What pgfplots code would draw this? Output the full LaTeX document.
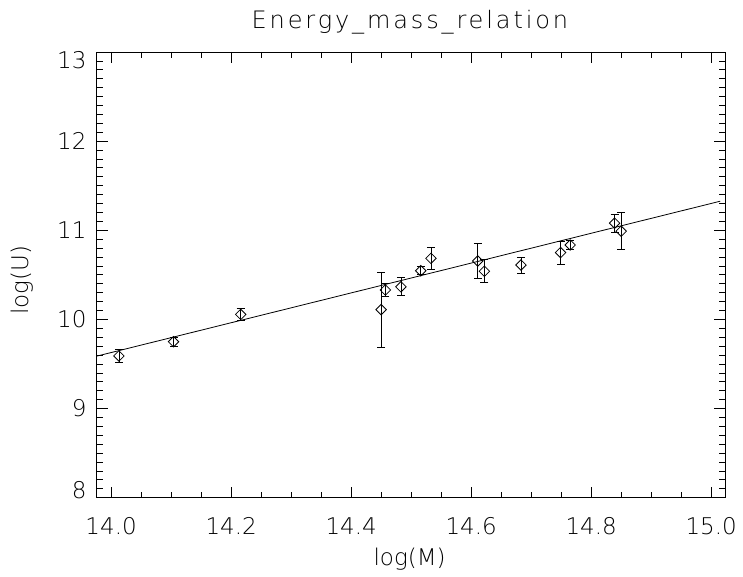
\documentclass[border=0pt]{standalone}
\usepackage{fontspec}
\setmainfont{DejaVu Sans}[UprightFont=* ExtraLight]
\usepackage{pgfplots}
\pgfplotsset{compat=1.18}

% log(M), log(U), error
\pgfplotstableread{
x       y       e
14.013  9.590   0.070
14.104  9.750   0.050
14.216  10.056  0.070
14.450  10.110  0.420
14.457  10.330  0.070
14.483  10.366  0.100
14.516  10.546  0.045
14.533  10.685  0.120
14.611  10.655  0.200
14.622  10.540  0.130
14.683  10.610  0.090
14.749  10.750  0.130
14.765  10.835  0.050
14.839  11.080  0.100
14.850  10.990  0.205
}\datatab

\begin{document}
\begin{tikzpicture}
\begin{axis}[
    scale only axis,
    width=628.3pt, height=445.7pt,
    xmin=13.976, xmax=15.023,
    ymin=8, ymax=13,
    xtick={14.0,14.2,14.4,14.6,14.8,15.0},
    ytick={8,9,10,11,12,13},
    yticklabels={\raisebox{7.7pt}{8},9,10,11,12,\raisebox{-7.7pt}{13}},
    minor x tick num=3,
    minor y tick num=9,
    tick align=inside,
    major tick length=11pt,
    minor tick length=6pt,
    axis line style={line width=0.9pt},
    every tick/.style={black, line width=0.8pt},
    /pgf/number format/assume math mode=true,
    xticklabel style={/pgf/number format/fixed, /pgf/number format/fixed zerofill,
        /pgf/number format/precision=1, inner sep=0pt, anchor=base, yshift=-37pt},
    yticklabel style={inner sep=0pt, anchor=base east, xshift=-10pt, yshift=-8.4pt},
    tick label style={font=\fontsize{23}{24}\selectfont},
    title={Energy\_mass\_relation},
    title style={font=\fontsize{24}{26}\selectfont\addfontfeatures{LetterSpace=12},
        at={(axis description cs:0.4985,1.039)}, anchor=base, inner sep=0pt},
    xlabel={log(M)},
    ylabel={log(U)},
    label style={font=\fontsize{23}{24}\selectfont},
    xlabel style={at={(axis description cs:0.498,-0.1375)}, anchor=center, inner sep=0pt},
    ylabel style={at={(axis description cs:-0.1189,0.4884)}, anchor=center, inner sep=0pt, rotate=0},
]
\coordinate (bl) at (rel axis cs:0,0);
\coordinate (tr) at (rel axis cs:1,1);

\addplot[no marks, black, line width=0.8pt] coordinates {(13.976,9.588) (15.015,11.326)};

\addplot[only marks, black, mark=square, mark size=3.7pt,
    mark options={rotate=45, line width=0.8pt},
    error bars/.cd, y dir=both, y explicit,
    error bar style={line width=0.8pt},
    error mark options={line width=0.8pt, mark size=4pt, rotate=90}]
    table[x=x, y=y, y error=e] {\datatab};
\end{axis}
\pgfresetboundingbox
\path ([xshift=-96.7pt, yshift=-79.3pt]bl) rectangle ([xshift=18pt, yshift=52pt]tr);
\end{tikzpicture}
\end{document}
